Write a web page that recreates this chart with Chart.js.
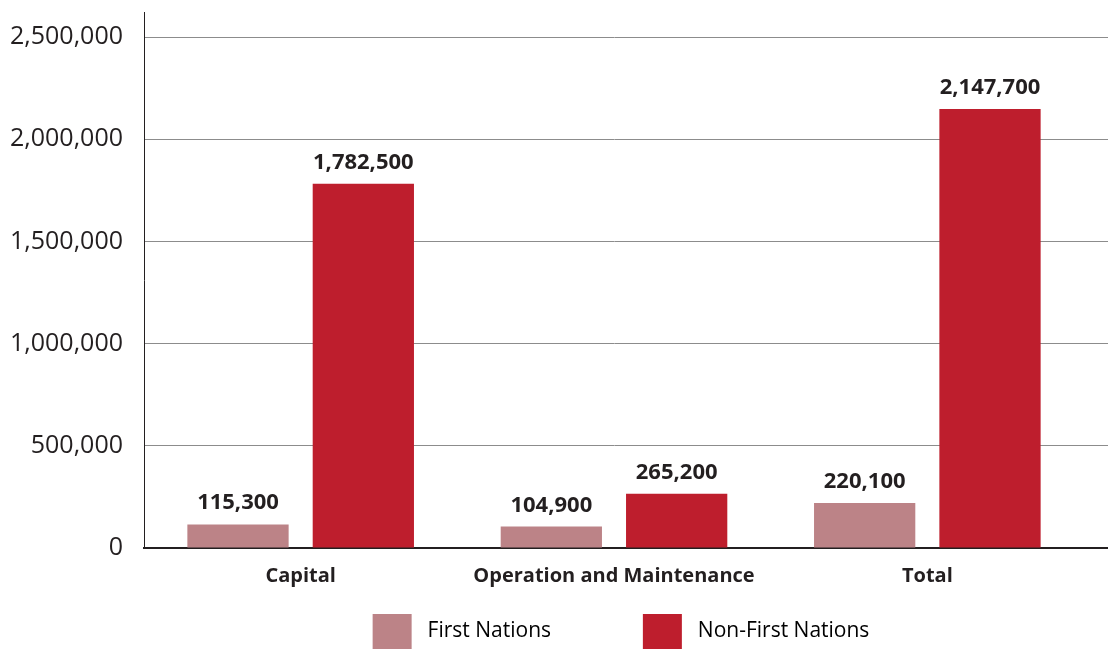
<!DOCTYPE html>
<html>
<head>
<meta charset="utf-8">
<script src="https://cdn.jsdelivr.net/npm/chart.js@4.4.1/dist/chart.umd.min.js"></script>
<style>
  html, body { margin: 0; padding: 0; background: #ffffff; }
  #wrap { width: 1108px; height: 649px; }
</style>
</head>
<body>
<div id="wrap"><canvas id="chart" width="1108" height="649"></canvas></div>
<script>
// Program spending, by category and recipient group
const categories = ['Capital', 'Operation and Maintenance', 'Total'];
const firstNations = [115300, 104900, 220100];
const nonFirstNations = [1782500, 265200, 2147700];
const seriesNames = ['First Nations', 'Non-First Nations'];
const yTickValues = [0, 500000, 1000000, 1500000, 2000000, 2500000];

const fmt = v => v.toLocaleString('en-US');
const GRID_COLOR = '#8c8c8c';

// Writes each bar's value above it
const valueLabels = {
  id: 'valueLabels',
  afterDatasetsDraw(chart) {
    const ctx = chart.ctx;
    ctx.save();
    ctx.font = 'bold 22px "Open Sans"';
    ctx.fillStyle = '#231f20';
    ctx.textAlign = 'center';
    ctx.textBaseline = 'alphabetic';
    chart.data.datasets.forEach((ds, i) => {
      chart.getDatasetMeta(i).data.forEach((bar, j) => {
        ctx.fillText(fmt(ds.data[j]), bar.x, bar.y - 15);
      });
    });
    ctx.restore();
  }
};

// Carries the horizontal gridlines on to the right edge of the canvas
const gridToEdge = {
  id: 'gridToEdge',
  beforeDatasetsDraw(chart) {
    const { ctx, chartArea, scales } = chart;
    ctx.save();
    ctx.strokeStyle = GRID_COLOR;
    ctx.lineWidth = 1;
    yTickValues.forEach(v => {
      if (v === 0) return;
      const y = Math.round(scales.y.getPixelForValue(v) - 0.5) + 0.5;
      ctx.beginPath();
      ctx.moveTo(chartArea.right - 1, y);
      ctx.lineTo(chart.width, y);
      ctx.stroke();
    });
    ctx.beginPath();
    ctx.strokeStyle = '#231f20';
    ctx.lineWidth = 2;
    const yb = scales.y.getPixelForValue(0);
    ctx.moveTo(chartArea.right - 1, yb);
    ctx.lineTo(chart.width, yb);
    ctx.stroke();
    ctx.restore();
  }
};

// Nudges the legend row a little to the right
const legendNudge = {
  id: 'legendNudge',
  afterLayout(chart) {
    if (chart.legend) {
      chart.legend.left += 7;
      chart.legend.right += 7;
    }
  }
};

new Chart(document.getElementById('chart'), {
  type: 'bar',
  data: {
    labels: categories,
    datasets: [
      { label: seriesNames[0], data: firstNations, backgroundColor: '#bc8387' },
      { label: seriesNames[1], data: nonFirstNations, backgroundColor: '#be1e2d' }
    ]
  },
  options: {
    responsive: false,
    animation: false,
    devicePixelRatio: 1,
    categoryPercentage: 0.80,
    barPercentage: 0.808,
    layout: { padding: { top: 0, right: 24, left: 10, bottom: -10 } },
    plugins: {
      tooltip: { enabled: false },
      legend: {
        position: 'bottom',
        fullSize: false,
        labels: {
          boxWidth: 39,
          boxHeight: 35,
          padding: 10,
          color: '#231f20',
          font: { family: '"Open Sans"', size: 21 },
          generateLabels(chart) {
            return chart.data.datasets.map((ds, i) => ({
              text: ' ' + ds.label + (i === 0 ? '               ' : ''),
              fillStyle: ds.backgroundColor,
              strokeStyle: ds.backgroundColor,
              lineWidth: 0,
              datasetIndex: i
            }));
          }
        }
      }
    },
    scales: {
      x: {
        grid: { display: false, drawTicks: false },
        border: { display: true, color: '#231f20', width: 2 },
        ticks: {
          color: '#231f20',
          padding: 16,
          font: { family: '"Open Sans"', size: 20, weight: 'bold' }
        }
      },
      y: {
        min: 0,
        max: 2620000,
        afterBuildTicks(scale) {
          scale.ticks = yTickValues.map(v => ({ value: v }));
        },
        grid: {
          color: GRID_COLOR,
          lineWidth: 1,
          drawTicks: true,
          tickLength: 21,
          tickColor: 'rgba(0,0,0,0)'
        },
        border: { display: true, color: '#231f20', width: 1 },
        ticks: {
          color: '#231f20',
          padding: 0,
          font: { family: '"Open Sans"', size: 25, lineHeight: 1 },
          callback: v => fmt(v)
        }
      }
    }
  },
  plugins: [gridToEdge, valueLabels, legendNudge]
});
</script>
</body>
</html>
